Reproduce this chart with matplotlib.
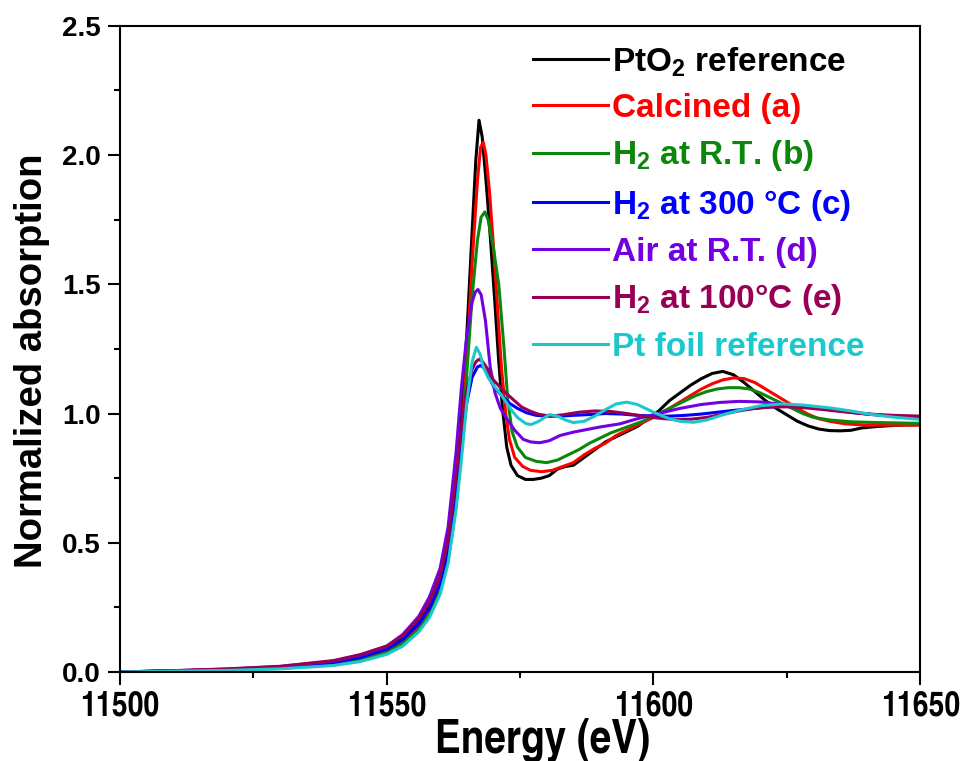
import matplotlib

matplotlib.use("Agg")
import matplotlib.pyplot as plt
from matplotlib.ticker import MultipleLocator

plt.rcParams["font.family"] = ["Liberation Sans", "DejaVu Sans"]
plt.rcParams["font.weight"] = "bold"
plt.rcParams["mathtext.fontset"] = "custom"
plt.rcParams["mathtext.rm"] = "Liberation Sans:bold"
plt.rcParams["mathtext.bf"] = "Liberation Sans:bold"

NARROW = ["TeX Gyre Heros Cn", "Liberation Sans", "DejaVu Sans"]

# values (energy in eV, normalized absorption)
E_pto2 = [11500, 11510, 11520, 11530, 11540, 11545, 11550, 11553, 11556, 11558,
          11560, 11561.5, 11563, 11564, 11565, 11566, 11566.7, 11567.3, 11567.9,
          11568.7, 11569.5, 11570.3, 11571, 11571.7, 11572.5, 11573.3, 11574.5,
          11576, 11577.5, 11579, 11580.5, 11582, 11583.5, 11585, 11587, 11589,
          11591, 11593, 11595, 11597, 11599, 11601, 11603, 11605, 11607, 11609,
          11611, 11613, 11615, 11617, 11619, 11621, 11623, 11625, 11627, 11629,
          11631, 11633, 11635, 11637, 11639, 11642, 11646, 11650]
A_pto2 = [0.0, 0.004, 0.009, 0.017, 0.035, 0.055, 0.09, 0.13, 0.19, 0.25,
          0.34, 0.47, 0.72, 0.98, 1.30, 1.70, 1.98, 2.135, 2.07,
          1.88, 1.66, 1.42, 1.20, 1.02, 0.87, 0.80, 0.76,
          0.745, 0.745, 0.75, 0.76, 0.785, 0.795, 0.80, 0.83, 0.86,
          0.89, 0.91, 0.93, 0.95, 0.98, 1.01, 1.05, 1.08, 1.11, 1.135,
          1.155, 1.163, 1.15, 1.12, 1.085, 1.05, 1.02, 0.995, 0.97, 0.952,
          0.94, 0.934, 0.933, 0.935, 0.944, 0.95, 0.955, 0.957]

E_calc = [11500, 11510, 11520, 11530, 11540, 11545, 11550, 11553, 11556, 11558,
          11560, 11561.5, 11563, 11564, 11565, 11566, 11567, 11567.6, 11568.1,
          11568.6, 11569.3, 11570, 11570.8, 11571.5, 11572.3, 11573, 11574,
          11575.5, 11577, 11579, 11581, 11583, 11585, 11587, 11589, 11591,
          11593, 11595, 11597, 11599, 11601, 11603, 11605, 11607, 11609, 11611,
          11613, 11615, 11617, 11619, 11621, 11623, 11625, 11627, 11629, 11631,
          11633, 11636, 11640, 11645, 11650]
A_calc = [0.0, 0.004, 0.009, 0.017, 0.033, 0.052, 0.085, 0.12, 0.18, 0.24,
          0.33, 0.45, 0.67, 0.90, 1.20, 1.58, 1.90, 2.03, 2.05,
          2.00, 1.85, 1.65, 1.40, 1.18, 1.00, 0.90, 0.83,
          0.795, 0.78, 0.775, 0.78, 0.795, 0.81, 0.84, 0.865, 0.885,
          0.915, 0.935, 0.955, 0.975, 0.995, 1.02, 1.045, 1.07, 1.095, 1.115,
          1.13, 1.138, 1.135, 1.12, 1.095, 1.07, 1.045, 1.02, 0.997, 0.98,
          0.97, 0.96, 0.955, 0.955, 0.955]

E_h2rt = [11500, 11510, 11520, 11530, 11540, 11545, 11550, 11553, 11556, 11558,
          11560, 11561.5, 11563, 11564, 11565, 11566, 11567, 11567.7, 11568.4,
          11569, 11570, 11571, 11572, 11572.7, 11573.5, 11574.5, 11576, 11578,
          11580, 11582, 11584, 11586, 11588, 11590, 11592, 11594, 11596, 11598,
          11600, 11602, 11604, 11606, 11608, 11610, 11612, 11614, 11616, 11618,
          11620, 11622, 11624, 11626, 11628, 11630, 11633, 11637, 11642, 11650]
A_h2rt = [0.0, 0.003, 0.007, 0.014, 0.028, 0.045, 0.075, 0.11, 0.165, 0.22,
          0.31, 0.43, 0.64, 0.86, 1.15, 1.45, 1.67, 1.76, 1.78,
          1.75, 1.64, 1.50, 1.25, 1.05, 0.93, 0.87, 0.83, 0.815,
          0.81, 0.82, 0.84, 0.86, 0.885, 0.905, 0.925, 0.94, 0.955, 0.97,
          0.99, 1.01, 1.03, 1.05, 1.07, 1.085, 1.095, 1.10, 1.10, 1.095,
          1.08, 1.06, 1.04, 1.02, 1.00, 0.985, 0.975, 0.968, 0.965, 0.962]

E_h2300 = [11500, 11510, 11520, 11530, 11540, 11545, 11550, 11553, 11556, 11558,
           11560, 11561.5, 11563, 11564, 11565, 11566, 11567, 11567.6, 11568.3,
           11569, 11570, 11571.5, 11573, 11574.5, 11576.2, 11578, 11580, 11582.5,
           11585, 11588, 11591, 11594, 11597, 11600, 11603, 11606, 11609, 11612,
           11615, 11618, 11621, 11624, 11627, 11630, 11634, 11638, 11642, 11646,
           11650]
A_h2300 = [0.0, 0.004, 0.009, 0.018, 0.036, 0.056, 0.088, 0.125, 0.185, 0.245,
           0.34, 0.47, 0.70, 0.88, 1.04, 1.14, 1.18, 1.186, 1.175,
           1.145, 1.106, 1.07, 1.04, 1.02, 1.003, 0.993, 0.99, 0.99,
           0.993, 0.996, 1.0, 0.998, 0.993, 0.99, 0.99, 0.993, 0.998, 1.005,
           1.012, 1.018, 1.024, 1.028, 1.027, 1.022, 1.013, 1.003, 0.995, 0.988,
           0.983]

E_airrt = [11500, 11510, 11520, 11530, 11540, 11545, 11550, 11553, 11556, 11558,
           11560, 11561.5, 11563, 11564, 11565, 11566, 11566.6, 11567.1, 11567.7,
           11568.5, 11569.4, 11570.3, 11571.3, 11572.5, 11574, 11575.6, 11577,
           11578.7, 11580.5, 11582.5, 11585, 11587.5, 11590, 11593.7, 11597,
           11601, 11605, 11609, 11612.5, 11616, 11620, 11624.4, 11628, 11633,
           11637, 11641, 11645, 11650]
A_airrt = [0.0, 0.005, 0.011, 0.021, 0.042, 0.065, 0.10, 0.145, 0.215, 0.29,
           0.40, 0.56, 0.85, 1.10, 1.30, 1.43, 1.47, 1.48, 1.46,
           1.36, 1.18, 1.08, 1.02, 0.98, 0.935, 0.90, 0.89,
           0.887, 0.895, 0.915, 0.928, 0.938, 0.948, 0.96, 0.98,
           1.0, 1.02, 1.035, 1.043, 1.047, 1.045, 1.035, 1.027, 1.016,
           1.005, 0.996, 0.99, 0.984]

E_h2100 = [11500, 11510, 11520, 11530, 11540, 11545, 11550, 11553, 11556, 11558,
           11560, 11561.5, 11563, 11564, 11565, 11566, 11566.7, 11567.3, 11568,
           11569, 11570, 11571.8, 11573.7, 11575.3, 11576.9, 11578.5, 11580.6,
           11583, 11586, 11589, 11592, 11595, 11598, 11601, 11604, 11607, 11610,
           11613, 11616, 11619, 11622, 11625, 11628, 11632, 11636, 11640, 11645,
           11650]
A_h2100 = [0.0, 0.005, 0.012, 0.022, 0.044, 0.067, 0.10, 0.14, 0.205, 0.27,
           0.37, 0.51, 0.76, 0.95, 1.09, 1.17, 1.20, 1.21, 1.20,
           1.17, 1.13, 1.09, 1.054, 1.025, 1.009, 0.997, 0.99,
           0.995, 1.005, 1.01, 1.008, 1.0, 0.99, 0.982, 0.977, 0.978, 0.985,
           0.997, 1.01, 1.02, 1.025, 1.026, 1.023, 1.015, 1.006, 0.998, 0.993,
           0.99]

E_ptfoil = [11500, 11510, 11520, 11530, 11540, 11545, 11550, 11553, 11556, 11558,
            11560, 11561.5, 11563, 11564, 11565, 11566, 11566.8, 11567.5, 11568.1,
            11569, 11570, 11571.2, 11572.5, 11573.5, 11574.5, 11576, 11577,
            11578.5, 11580.5, 11582, 11583.5, 11585, 11587, 11589, 11591, 11593,
            11595, 11597, 11599, 11601, 11603, 11605, 11607.5, 11610, 11613,
            11616, 11620, 11624, 11628, 11633, 11637, 11641, 11645, 11650]
A_ptfoil = [0.0, 0.003, 0.006, 0.012, 0.025, 0.04, 0.068, 0.10, 0.155, 0.21,
            0.30, 0.42, 0.63, 0.82, 1.04, 1.20, 1.256, 1.23, 1.18,
            1.14, 1.11, 1.08, 1.04, 1.01, 0.985, 0.962, 0.957,
            0.97, 0.996, 0.99, 0.975, 0.965, 0.97, 0.99, 1.015, 1.037,
            1.044, 1.035, 1.015, 0.996, 0.98, 0.97, 0.966, 0.975, 0.995,
            1.012, 1.03, 1.037, 1.033, 1.022, 1.01, 0.996, 0.986, 0.977]

series = [
    (E_pto2, A_pto2, r"PtO$_2$ reference", "#000000"),
    (E_calc, A_calc, "Calcined (a)", "#ff0000"),
    (E_h2rt, A_h2rt, r"H$_2$ at R.T. (b)", "#0b870b"),
    (E_h2300, A_h2300, r"H$_2$ at 300 °C (c)", "#0000ff"),
    (E_airrt, A_airrt, "Air at R.T. (d)", "#7300e0"),
    (E_h2100, A_h2100, r"H$_2$ at 100°C (e)", "#990055"),
    (E_ptfoil, A_ptfoil, "Pt foil reference", "#1dc8cc"),
]

fig = plt.figure(figsize=(9.64, 7.61), dpi=100)
ax = fig.add_axes([0.1245, 0.117, 0.830, 0.849])

for E, A, label, color in series:
    ax.plot(E, A, color=color, lw=2.2, label=label)

ax.set_xlim(11500, 11650)
ax.set_ylim(0, 2.5)
ax.xaxis.set_major_locator(MultipleLocator(50))
ax.xaxis.set_minor_locator(MultipleLocator(25))
ax.yaxis.set_major_locator(MultipleLocator(0.5))
ax.yaxis.set_minor_locator(MultipleLocator(0.25))
ax.yaxis.set_major_formatter(plt.FormatStrFormatter("%.1f"))
ax.tick_params(which="both", direction="out", width=1.5, top=False, right=False)
ax.tick_params(which="major", length=9)
ax.tick_params(which="minor", length=4.5)
ax.tick_params(axis="x", which="major", pad=4)
ax.tick_params(axis="y", which="major", labelsize=20, pad=5)
for lab in ax.get_xticklabels():
    lab.set_family(NARROW)
    lab.set_fontsize(25)
for sp in ax.spines.values():
    sp.set_linewidth(1.5)

ax.set_xlabel("Energy (eV)", fontsize=34, fontweight="bold", family=NARROW)
ax.xaxis.set_label_coords(0.528, -0.071)
ax.set_ylabel("Normalized absorption", fontsize=27.5, fontweight="bold")
ax.yaxis.set_label_coords(-0.088, 0.482)

leg = ax.legend(loc="upper left", bbox_to_anchor=(0.479, 1.017), frameon=False,
                fontsize=24, handlelength=2.25, handletextpad=0.12,
                labelspacing=0.43, labelcolor="linecolor")
for h in leg.get_lines():
    h.set_linewidth(2.2)

fig.savefig("out.png", dpi=100)
